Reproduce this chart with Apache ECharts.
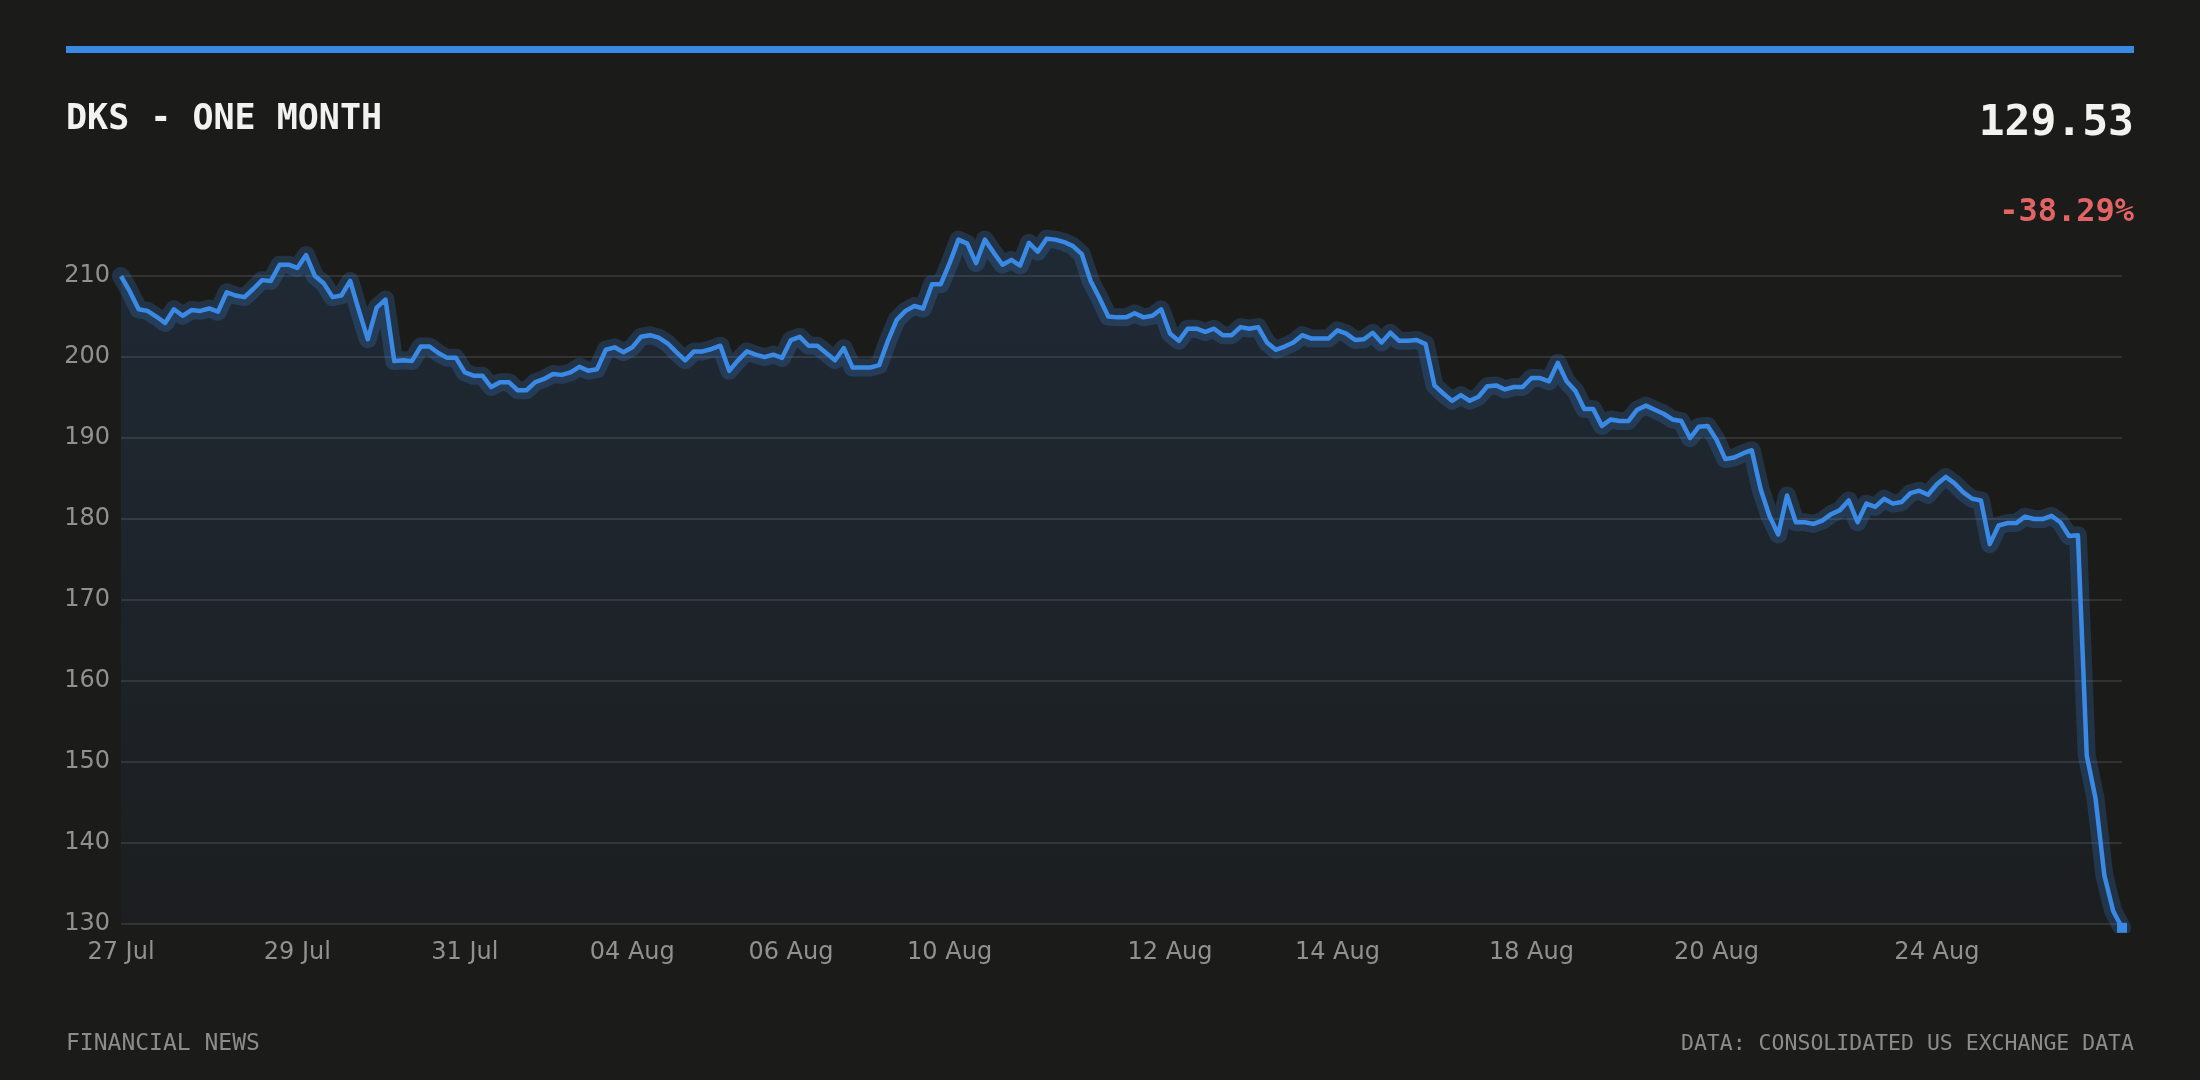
<!DOCTYPE html>
<html>
<head>
<meta charset="utf-8">
<script src="https://cdn.jsdelivr.net/npm/echarts@6/dist/echarts.min.js"></script>
<style>
html,body{margin:0;padding:0;background:#1b1b1a;}
#chart{width:2200px;height:1080px;}
</style>
</head>
<body>
<div id="chart"></div>
<script>
const title = 'DKS - ONE MONTH';
const lastPrice = '129.53';
const changePct = '-38.29%';
const sourceLeft = 'FINANCIAL NEWS';
const sourceRight = 'DATA: CONSOLIDATED US EXCHANGE DATA';

const tickLabels = ['27 Jul','29 Jul','31 Jul','04 Aug','06 Aug','10 Aug','12 Aug','14 Aug','18 Aug','20 Aug','24 Aug'];
const tickIndex = [0,20,39,58,76,94,119,138,160,181,206];

const yTicks = [130,140,150,160,170,180,190,200,210];

const prices = [
  210.0, 208.1, 205.9, 205.7, 205.0, 204.2, 205.9, 205.1, 205.8, 205.7,
  206.0, 205.6, 208.0, 207.6, 207.4, 208.4, 209.5, 209.4, 211.4, 211.4,
  211.0, 212.6, 210.0, 209.1, 207.4, 207.6, 209.4, 205.7, 202.2, 206.1,
  207.1, 199.5, 199.6, 199.5, 201.3, 201.3, 200.5, 199.9, 199.9, 198.1,
  197.7, 197.7, 196.3, 196.9, 196.9, 195.9, 195.9, 196.9, 197.3, 197.9,
  197.8, 198.1, 198.8, 198.3, 198.5, 200.9, 201.2, 200.6, 201.2,
  202.5, 202.7, 202.4, 201.7, 200.6, 199.6, 200.7, 200.7, 201.0, 201.4,
  198.3, 199.6, 200.7, 200.3, 200.0, 200.3, 199.9, 202.1, 202.5, 201.4,
  201.4, 200.5, 199.6, 201.1, 198.7, 198.7, 198.7, 199.0, 202.0, 204.6,
  205.7, 206.3, 206.0, 209.0, 209.0, 211.6, 214.5, 214.0, 211.6, 214.5,
  212.9, 211.4, 212.0, 211.3, 214.1, 213.0, 214.6, 214.5, 214.2, 213.7,
  212.7, 209.4, 207.3, 205.0, 204.9, 204.9, 205.4,
  204.9, 205.1, 205.9, 202.9, 202.0, 203.5, 203.5, 203.1, 203.5, 202.7,
  202.7, 203.7, 203.5, 203.7, 201.8, 200.9, 201.3, 201.8, 202.7, 202.3,
  202.3, 202.3, 203.3, 202.9, 202.1, 202.2, 203.0, 201.8, 203.0, 202.0,
  202.0, 202.1, 201.6, 196.5, 195.5, 194.6, 195.3, 194.6, 195.1, 196.4,
  196.5, 196.0, 196.3, 196.3, 197.4, 197.4, 197.0, 199.3, 197.0, 195.8,
  193.6, 193.6, 191.5, 192.3, 192.1, 192.1, 193.5, 194.0,
  193.5, 193.0, 192.3, 192.1, 190.0, 191.4, 191.5, 189.8, 187.4, 187.6,
  188.1, 188.5, 183.7, 180.4, 178.1, 182.9, 179.6, 179.6, 179.4, 179.8,
  180.6, 181.1, 182.3, 179.6, 181.9, 181.5, 182.5, 181.9, 182.1, 183.2,
  183.5, 183.0, 184.3, 185.2, 184.4, 183.3, 182.5, 182.3, 176.9, 179.2,
  179.5, 179.5, 180.3, 180.0, 180.0, 180.4, 179.6, 177.9, 178.0,
  150.8, 145.5, 136.0, 131.6, 129.53
];

const BLUE = '#3a89e5';
const lastIdx = prices.length - 1;
const categories = prices.map((_, i) => String(i));

const chart = echarts.init(document.getElementById('chart'), null, { renderer: 'canvas' });
chart.setOption({
  backgroundColor: '#1b1b1a',
  animation: false,
  grid: { left: 121, right: 78, top: 238, bottom: 156, containLabel: false, outerBoundsMode: 'none' },
  xAxis: {
    type: 'category',
    data: categories,
    boundaryGap: false,
    axisLine: { show: false },
    axisTick: { show: false },
    splitLine: { show: false },
    axisLabel: {
      interval: (i) => tickIndex.indexOf(i) >= 0,
      formatter: (v, i) => { const k = tickIndex.indexOf(i); return k >= 0 ? tickLabels[k] : ''; },
      color: '#91918e',
      fontFamily: '"DejaVu Sans"',
      fontSize: 24,
      margin: 17,
      hideOverlap: false
    }
  },
  yAxis: {
    type: 'value',
    min: yTicks[0],
    max: 214.7,
    interval: 10,
    axisLine: { show: false },
    axisTick: { show: false },
    axisLabel: {
      color: '#91918e',
      fontFamily: '"DejaVu Sans"',
      fontSize: 24,
      margin: 11,
      padding: [6, 0, 0, 0],
      showMaxLabel: false
    },
    splitLine: { show: true, showMaxLine: false, lineStyle: { color: 'rgba(255,255,255,0.1)', width: 2 } }
  },
  series: [
    {
      type: 'line',
      data: prices,
      symbol: 'none',
      lineStyle: { width: 0, opacity: 0 },
      areaStyle: {
        color: new echarts.graphic.LinearGradient(0, 0, 0, 1, [
          { offset: 0, color: 'rgba(58,137,229,0.19)' },
          { offset: 1, color: 'rgba(58,137,229,0.04)' }
        ])
      },
      z: 1,
      silent: true
    },
    {
      type: 'line',
      data: prices,
      symbol: 'none',
      lineStyle: { width: 18, color: 'rgba(58,137,229,0.22)', join: 'round', cap: 'round' },
      z: 2,
      silent: true
    },
    {
      type: 'line',
      data: prices,
      symbol: 'none',
      clip: false,
      lineStyle: { width: 4.5, color: BLUE, join: 'round' },
      z: 3,
      silent: true
    },
    {
      type: 'scatter',
      data: [[lastIdx, prices[lastIdx]]],
      symbol: 'rect',
      symbolSize: 10,
      clip: false,
      itemStyle: { color: BLUE, opacity: 1 },
      z: 4,
      silent: true
    }
  ],
  graphic: [
    { type: 'rect', shape: { x: 66, y: 46, width: 2068, height: 7 }, style: { fill: BLUE } },
    { type: 'text', x: 66, y: 120, style: { text: title, font: 'bold 35px "DejaVu Sans Mono"', fill: '#f2f2ef', align: 'left', verticalAlign: 'middle' } },
    { type: 'text', x: 2134, y: 124, style: { text: lastPrice, font: 'bold 43px "DejaVu Sans Mono"', fill: '#f2f2ef', align: 'right', verticalAlign: 'middle' } },
    { type: 'text', x: 2134, y: 213, style: { text: changePct, font: 'bold 32px "DejaVu Sans Mono"', fill: '#e36464', align: 'right', verticalAlign: 'middle' } },
    { type: 'text', x: 66, y: 1044, style: { text: sourceLeft, font: '23px "DejaVu Sans Mono"', fill: '#8c8c8a', align: 'left', verticalAlign: 'middle' } },
    { type: 'text', x: 2134, y: 1044, style: { text: sourceRight, font: '21.5px "DejaVu Sans Mono"', fill: '#8c8c8a', align: 'right', verticalAlign: 'middle' } }
  ]
});
</script>
</body>
</html>
